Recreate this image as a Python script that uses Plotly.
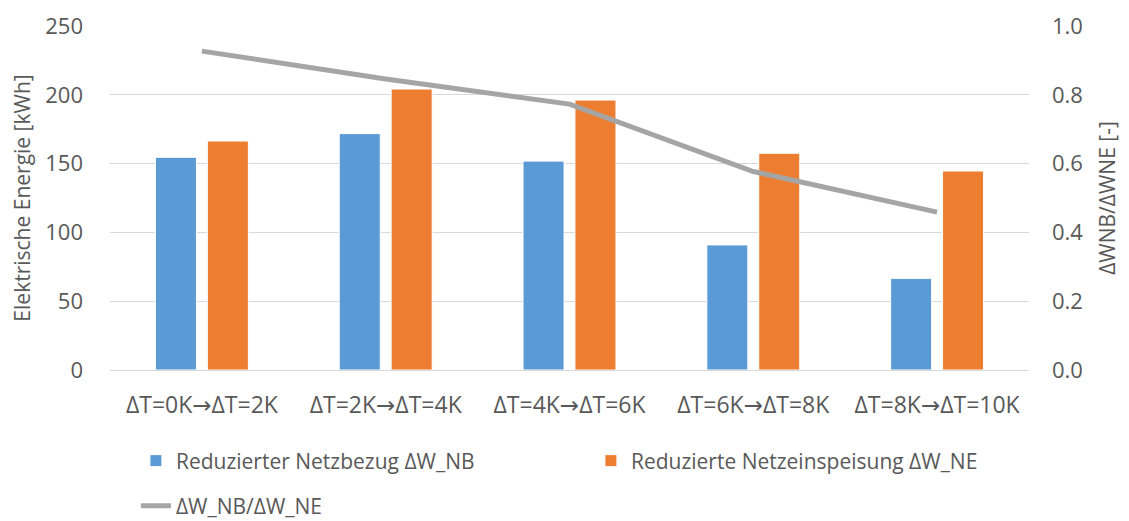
import plotly.graph_objects as go

categories = ['ΔT=0K→ΔT=2K', 'ΔT=2K→ΔT=4K', 'ΔT=4K→ΔT=6K', 'ΔT=6K→ΔT=8K', 'ΔT=8K→ΔT=10K']
netzbezug = [154.6, 171.8, 151.8, 90.9, 66.6]
netzeinspeisung = [166.4, 204.2, 196.2, 157.5, 144.6]
verhaeltnis = [0.927, 0.846, 0.773, 0.577, 0.459]

FONT = 'Open Sans, DejaVu Sans, sans-serif'
GREY = '#595959'

fig = go.Figure()

fig.add_trace(go.Bar(
    x=categories, y=netzbezug,
    name='Reduzierter Netzbezug ΔW_NB',
    marker=dict(color='#5B9BD5', line=dict(color='white', width=1)),
    legend='legend',
))
fig.add_trace(go.Bar(
    x=categories, y=netzeinspeisung,
    name='Reduzierte Netzeinspeisung ΔW_NE',
    marker=dict(color='#ED7D31', line=dict(color='white', width=1)),
    legend='legend',
))
fig.add_trace(go.Scatter(
    x=categories, y=verhaeltnis,
    name='ΔW_NB/ΔW_NE',
    mode='lines',
    line=dict(color='#A5A5A5', width=5),
    yaxis='y2',
    legend='legend2',
))

# the page body has an 8px default margin, so the figure is 8px smaller
fig.update_layout(
    width=1121, height=513,
    margin=dict(l=102, r=100, t=18, b=151, autoexpand=False),
    paper_bgcolor='white', plot_bgcolor='white',
    font=dict(family=FONT, color=GREY),
    barmode='group',
    bargap=0.435,
    bargroupgap=0.21,
    showlegend=True,
    xaxis=dict(
        tickfont=dict(size=23, color=GREY),
        showgrid=False,
        showline=True, linecolor='#D9D9D9', linewidth=1,
        ticks='', ticklabelstandoff=14,
    ),
    yaxis=dict(
        range=[0, 250], dtick=50,
        tickfont=dict(size=22, color=GREY),
        gridcolor='#D9D9D9', gridwidth=1,
        zeroline=False,
        ticks='', ticklabelstandoff=26,
        title=dict(text='Elektrische Energie [kWh]', font=dict(size=21, color=GREY), standoff=10),
    ),
    yaxis2=dict(
        range=[0, 1], dtick=0.2, tickformat='.1f',
        overlaying='y', side='right',
        showgrid=False, zeroline=False,
        tickfont=dict(size=22, color=GREY),
        ticks='', ticklabelstandoff=22,
        title=dict(text='ΔWNB/ΔWNE [-]', font=dict(size=21, color=GREY), standoff=17),
    ),
    legend=dict(
        orientation='h',
        x=0.0282, xanchor='left',
        y=-0.2645, yanchor='middle',
        entrywidth=410,
        font=dict(size=21, color=GREY),
        bgcolor='rgba(0,0,0,0)',
    ),
    legend2=dict(
        orientation='h',
        x=0.0282, xanchor='left',
        y=-0.396, yanchor='middle',
        font=dict(size=21, color=GREY),
        bgcolor='rgba(0,0,0,0)',
    ),
)

fig.write_html('out.html')
